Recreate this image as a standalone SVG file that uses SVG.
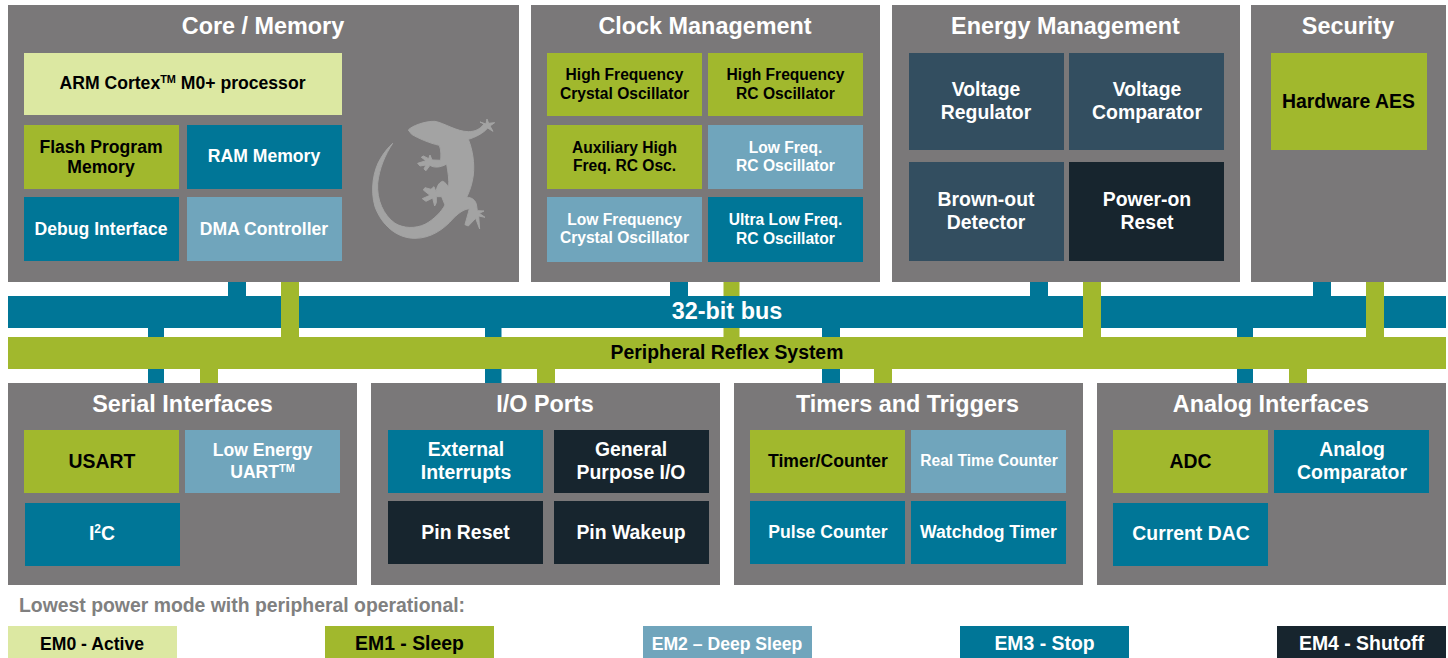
<svg xmlns="http://www.w3.org/2000/svg" width="1448" height="658" viewBox="0 0 1448 658">
<style>
text{font-family:"Liberation Sans",Arial,sans-serif;font-weight:700;text-anchor:middle}
.p{fill:#7a7879}.t{fill:#fff;font-size:23.4px}
.l{fill:#dce8a2}.g{fill:#a1b82d}.s{fill:#70a5bc}.b{fill:#007697}.n{fill:#334e60}.d{fill:#17252e}
.k{fill:#000;font-size:17.6px}.w{fill:#fff;font-size:17.6px}
text.m{font-size:15.6px}text.h{font-size:19.4px}
tspan.u{font-size:.62em}
</style>
<rect width="1448" height="658" fill="#fff"/>
<g id="connectors">
<rect class="g" x="723.500" y="282" width="16" height="56"/>
<rect class="b" x="8" y="296" width="1438" height="32"/>
<g class="b">
<rect x="228" y="282" width="18" height="14"/><rect x="670" y="282" width="18" height="14"/><rect x="1030" y="282" width="18" height="14"/><rect x="1313" y="282" width="18" height="14"/>
<rect x="148" y="328" width="16" height="55"/><rect x="485" y="328" width="16.500" height="55"/><rect x="822" y="328" width="18" height="55"/><rect x="1237" y="328" width="16" height="55"/>
</g>
<g class="g">
<rect x="281" y="282" width="18" height="56"/><rect x="1083" y="282" width="18" height="56"/><rect x="1366" y="282" width="18" height="56"/>
<rect x="200" y="369" width="18" height="14"/><rect x="537" y="369" width="18" height="14"/><rect x="874" y="369" width="18" height="14"/><rect x="1289" y="369" width="18" height="14"/>
</g>
</g>
<g id="bus"><text x="727" y="319" fill="#fff" font-size="23.4px">32-bit bus</text></g>
<g id="prs"><rect class="g" x="8" y="337" width="1438" height="32"/><text class="k h" x="727" y="359">Peripheral Reflex System</text></g>

<g id="core-memory">
<rect class="p" x="8" y="5" width="511" height="277"/>
<text class="t" x="263" y="34">Core / Memory</text>
<path fill="#a3a3a3" stroke="#a3a3a3" stroke-width="3" stroke-linejoin="round" transform="translate(340 100) scale(.3333)" d="M205 90C215 78 255 63 285 64C315 70 350 95 385 95C405 95 420 88 432 72L420 66L438 72L441 57L446 70L464 68L450 78L459 94L443 84C430 100 405 112 385 118C398 150 404 190 400 225C396 255 388 275 380 292C395 292 408 300 410 318L412 332L432 333L418 340L435 352L416 348L419 387L407 355L385 378L375 374C380 355 385 340 388 326C370 328 355 340 340 355C310 390 270 415 225 415C170 415 125 375 105 320C90 270 100 210 122 175C132 158 145 142 158 130C135 165 118 205 113 250C110 300 130 345 165 370C190 385 225 387 255 373C280 360 305 335 315 315L305 290L289 290L289 308L284 318L278 294L258 304L247 296L270 286L250 270L255 263L273 268L282 260L288 276C290 262 296 247 308 244C315 246 322 255 326 262C328 240 324 215 320 192C300 204 280 203 270 196L258 212L252 207L258 195L240 198L233 190L258 182L244 172L250 168L266 176L270 165L276 180L302 181C303 170 304 150 298 136C270 130 235 115 215 103Z"/>
<g id="arm"><rect class="l" x="24" y="53" width="318" height="62"/><text class="k" x="182.500" y="89">ARM Cortex<tspan class="u" dy="-6">TM</tspan><tspan dy="6"> M0+ processor</tspan></text></g>
<g id="flash"><rect class="g" x="24" y="125" width="155" height="64"/><text class="k" x="101" y="153">Flash Program</text><text class="k" x="101" y="173">Memory</text></g>
<g id="ram"><rect class="b" x="187" y="125" width="155" height="64"/><text class="w" x="264" y="162">RAM Memory</text></g>
<g id="debug"><rect class="b" x="24" y="197" width="155" height="64"/><text class="w" x="101" y="235">Debug Interface</text></g>
<g id="dma"><rect class="s" x="187" y="197" width="155" height="64"/><text class="w" x="264" y="235">DMA Controller</text></g>
</g>

<g id="clock-management">
<rect class="p" x="531" y="5" width="349" height="277"/>
<text class="t" x="705" y="34">Clock Management</text>
<g id="hfxo"><rect class="g" x="547" y="53" width="155" height="63"/><text class="k m" x="624.500" y="80">High Frequency</text><text class="k m" x="624.500" y="99">Crystal Oscillator</text></g>
<g id="hfrco"><rect class="g" x="708" y="53" width="155" height="63"/><text class="k m" x="785.500" y="80">High Frequency</text><text class="k m" x="785.500" y="99">RC Oscillator</text></g>
<g id="auxhfrco"><rect class="g" x="547" y="125" width="155" height="64"/><text class="k m" x="624.500" y="153">Auxiliary High</text><text class="k m" x="624.500" y="171">Freq. RC Osc.</text></g>
<g id="lfrco"><rect class="s" x="708" y="125" width="155" height="64"/><text class="w m" x="785.500" y="153">Low Freq.</text><text class="w m" x="785.500" y="171">RC Oscillator</text></g>
<g id="lfxo"><rect class="s" x="547" y="197" width="155" height="65"/><text class="w m" x="624.500" y="225">Low Frequency</text><text class="w m" x="624.500" y="243">Crystal Oscillator</text></g>
<g id="ulfrco"><rect class="b" x="708" y="197" width="155" height="65"/><text class="w m" x="785.500" y="225">Ultra Low Freq.</text><text class="w m" x="785.500" y="244">RC Oscillator</text></g>
</g>

<g id="energy-management">
<rect class="p" x="892" y="5" width="348" height="277"/>
<text class="t" x="1065.500" y="34">Energy Management</text>
<g id="vreg"><rect class="n" x="909" y="53" width="155" height="97"/><text class="w h" x="986" y="96">Voltage</text><text class="w h" x="986" y="119">Regulator</text></g>
<g id="vcmp"><rect class="n" x="1069" y="53" width="155" height="97"/><text class="w h" x="1147" y="96">Voltage</text><text class="w h" x="1147" y="119">Comparator</text></g>
<g id="bod"><rect class="n" x="909" y="162" width="155" height="99"/><text class="w h" x="986" y="206">Brown-out</text><text class="w h" x="986" y="229">Detector</text></g>
<g id="por"><rect class="d" x="1069" y="162" width="155" height="99"/><text class="w h" x="1147" y="206">Power-on</text><text class="w h" x="1147" y="229">Reset</text></g>
</g>

<g id="security">
<rect class="p" x="1251" y="5" width="195" height="277"/>
<text class="t" x="1348" y="34">Security</text>
<g id="aes"><rect class="g" x="1271" y="53" width="156" height="97"/><text class="k h" x="1348.500" y="108">Hardware AES</text></g>
</g>

<g id="serial-interfaces">
<rect class="p" x="8" y="383" width="349" height="202"/>
<text class="t" x="182.500" y="412">Serial Interfaces</text>
<g id="usart"><rect class="g" x="24" y="430" width="155" height="63"/><text class="k h" x="102" y="468">USART</text></g>
<g id="leuart"><rect class="s" x="185" y="430" width="155" height="63"/><text class="w" x="262.500" y="456">Low Energy</text><text class="w" x="262.500" y="478">UART<tspan class="u" dy="-6">TM</tspan></text></g>
<g id="i2c"><rect class="b" x="25" y="503" width="155" height="63"/><text class="w h" x="102" y="540">I<tspan class="u" dy="-7">2</tspan><tspan dy="7">C</tspan></text></g>
</g>

<g id="io-ports">
<rect class="p" x="371" y="383" width="349" height="202"/>
<text class="t" x="545" y="412">I/O Ports</text>
<g id="extint"><rect class="b" x="388" y="430" width="155" height="63"/><text class="w h" x="466" y="456">External</text><text class="w h" x="466" y="479">Interrupts</text></g>
<g id="gpio"><rect class="d" x="554" y="430" width="155" height="63"/><text class="w h" x="631" y="456">General</text><text class="w h" x="631" y="479">Purpose I/O</text></g>
<g id="pinreset"><rect class="d" x="388" y="501" width="155" height="63"/><text class="w h" x="465.500" y="539">Pin Reset</text></g>
<g id="pinwakeup"><rect class="d" x="554" y="501" width="155" height="63"/><text class="w h" x="631" y="539">Pin Wakeup</text></g>
</g>

<g id="timers-triggers">
<rect class="p" x="734" y="383" width="349" height="202"/>
<text class="t" x="907.500" y="412">Timers and Triggers</text>
<g id="timer"><rect class="g" x="750" y="430" width="155" height="63"/><text class="k" x="828" y="467">Timer/Counter</text></g>
<g id="rtc"><rect class="s" x="911" y="430" width="155" height="63"/><text class="w m" x="989" y="466">Real Time Counter</text></g>
<g id="pcnt"><rect class="b" x="750" y="501" width="155" height="63"/><text class="w" x="828" y="538">Pulse Counter</text></g>
<g id="wdog"><rect class="b" x="911" y="501" width="155" height="63"/><text class="w" x="988.500" y="538">Watchdog Timer</text></g>
</g>

<g id="analog-interfaces">
<rect class="p" x="1097" y="383" width="349" height="202"/>
<text class="t" x="1271" y="412">Analog Interfaces</text>
<g id="adc"><rect class="g" x="1113" y="430" width="155" height="63"/><text class="k h" x="1190.500" y="468">ADC</text></g>
<g id="acmp"><rect class="b" x="1274" y="430" width="155" height="63"/><text class="w h" x="1352" y="456">Analog</text><text class="w h" x="1352" y="479">Comparator</text></g>
<g id="dac"><rect class="b" x="1113" y="503" width="155" height="63"/><text class="w h" x="1191" y="540">Current DAC</text></g>
</g>

<g id="legend">
<text x="242" y="612" fill="#808080" font-size="19.400px">Lowest power mode with peripheral operational:</text>
<g id="em0"><rect class="l" x="8" y="626" width="169" height="32"/><text class="k" x="92" y="650">EM0 - Active</text></g>
<g id="em1"><rect class="g" x="325" y="626" width="169" height="32"/><text class="k h" x="409.500" y="650">EM1 - Sleep</text></g>
<g id="em2"><rect class="s" x="643" y="626" width="169" height="32"/><text class="w" x="727" y="650">EM2 – Deep Sleep</text></g>
<g id="em3"><rect class="b" x="960" y="626" width="169" height="32"/><text class="w h" x="1044.500" y="650">EM3 - Stop</text></g>
<g id="em4"><rect class="d" x="1277" y="626" width="169" height="32"/><text class="w h" x="1361.500" y="650">EM4 - Shutoff</text></g>
</g>
</svg>
